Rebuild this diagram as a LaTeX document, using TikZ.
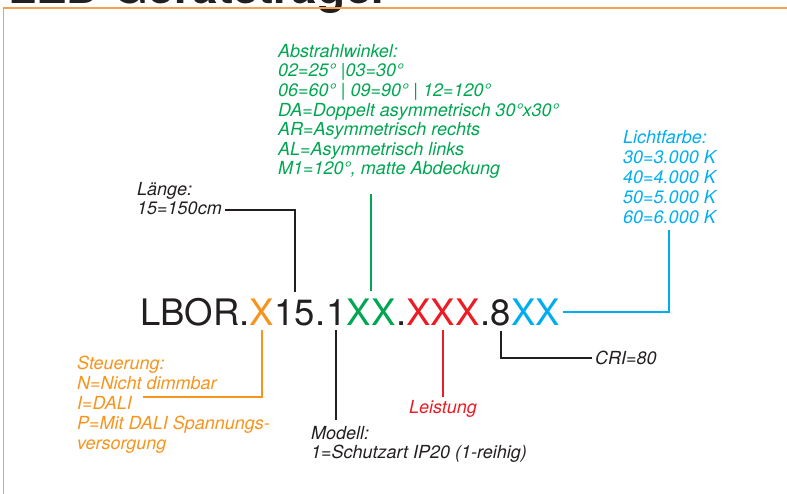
\documentclass[tikz,border=0pt]{standalone}
\usepackage{fontspec}
\setmainfont{TeX Gyre Heros}
\usetikzlibrary{positioning}
\definecolor{ink}{HTML}{231F20}
\definecolor{orn}{HTML}{F7941D}
\definecolor{rahmen}{HTML}{F4A04C}
\definecolor{grn}{HTML}{00A651}
\definecolor{rd}{HTML}{ED1C24}
\definecolor{cyn}{HTML}{00AEEF}
\begin{document}
\begin{tikzpicture}[x=1pt, y=-1pt,
	code/.style={inner sep=0, anchor=base west, text=ink, font=\fontsize{36.5}{36.5}\selectfont},
	lab/.style={inner sep=0, align=left, text=ink, font=\itshape\fontsize{18}{19.6}\selectfont},
	con/.style={line width=2pt}]
	\useasboundingbox (0,0) rectangle (787,494);
	\node[anchor=base west, inner sep=0, text=ink, font=\bfseries\fontsize{46}{46}\selectfont] (titel) at (8,4) {LED Geräteträger};
	\draw[line width=1.8pt, rahmen] (787,8) -- (3.5,8) -- (3.5,494);
	\node[code] (c1) at (140,325) {LBOR.};
	\node[code, text=orn] (steu) at (c1.base east) {X};
	\node[code] (laen) at (steu.base east) {15};
	\node[code] (c2) at (laen.base east) {.};
	\node[code] (mod) at (c2.base east) {1};
	\node[code, text=grn] (wink) at (mod.base east) {XX};
	\node[code] (c3) at (wink.base east) {.};
	\node[code, text=rd] (leis) at (c3.base east) {XXX};
	\node[code] (c4) at (leis.base east) {.};
	\node[code] (cri) at (c4.base east) {8};
	\node[code, text=cyn] (farbe) at (cri.base east) {XX};
	\node[lab, anchor=north west] (laenlab) at (137,182) {Länge:\\15=150cm};
	\node[lab, anchor=north west, text=grn] (winklab) at (278,44) {Abstrahlwinkel:\\02=25° |03=30°\\06=60° | 09=90° | 12=120°\\DA=Doppelt asymmetrisch 30°x30°\\AR=Asymmetrisch rechts\\AL=Asymmetrisch links\\M1=120°, matte Abdeckung};
	\node[lab, anchor=north west, text=cyn, font=\itshape\fontsize{18}{20}\selectfont] (lichtlab) at (623,130) {Lichtfarbe:\\30=3.000 K\\40=4.000 K\\50=5.000 K\\60=6.000 K};
	\node[lab, anchor=north west, text=orn, font=\itshape\fontsize{18}{20}\selectfont] (steulab) at (77,356) {Steuerung:\\N=Nicht dimmbar\\I=DALI\\P=Mit DALI Spannungs-\\versorgung};
	\node[lab, text=rd, below=75pt of leis] (leislab) {Leistung};
	\node[lab, anchor=north west] (modlab) at (311,426) {Modell:\\1=Schutzart IP20 (1-reihig)};
	\node[lab, anchor=west] (crilab) at (595,358) {CRI=80};
	\coordinate (steuend) at (143,397);
	\coordinate (winkend) at ([yshift=-15pt]winklab.south);
	\draw[con, ink] ([shift={(3pt,5pt)}]laenlab.south east) -| ([yshift=7pt]laen.north);
	\draw[con, grn] ([yshift=7pt]wink.north) -- (wink.north |- winkend);
	\draw[con, cyn] ([xshift=3pt]farbe.east) -| ([yshift=-6pt]lichtlab.south);
	\draw[con, orn] ([yshift=-5pt]steu.south) |- (steuend);
	\draw[con, ink] ([yshift=-5pt]mod.south) -- ([yshift=6pt]mod.south |- modlab.north);
	\draw[con, rd] ([yshift=-5pt]leis.south) -- ([yshift=3pt]leislab.north);
	\draw[con, ink] ([yshift=-5pt]cri.south) |- ([xshift=-3pt]crilab.west);
\end{tikzpicture}
\end{document}
